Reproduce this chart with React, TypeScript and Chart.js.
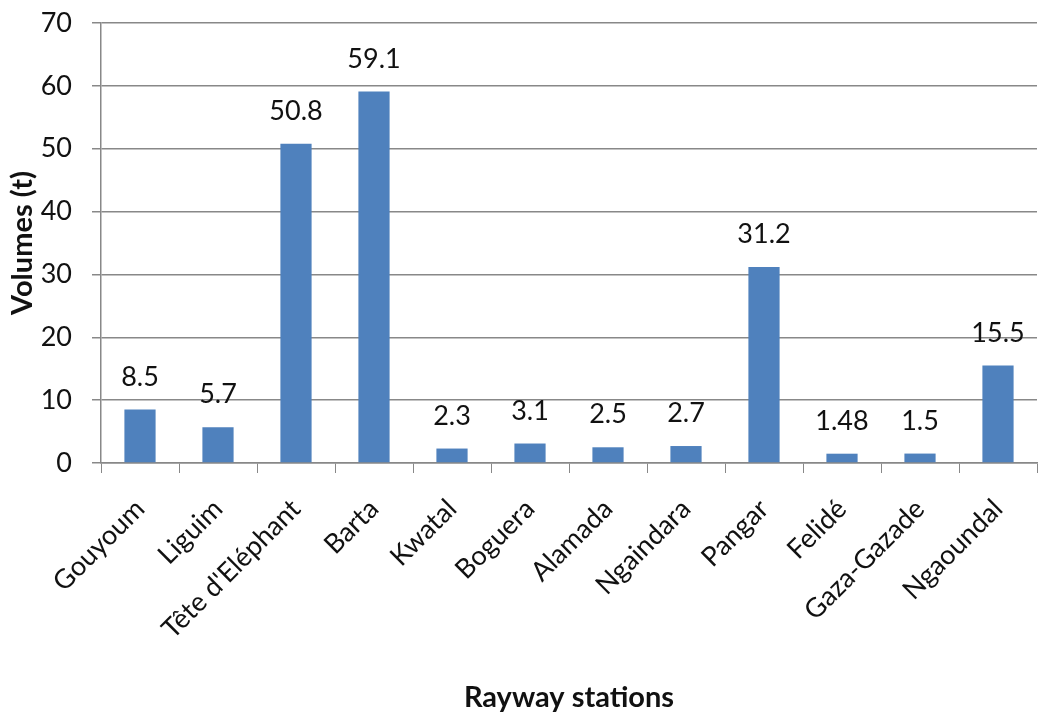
import React, { useEffect, useRef } from "react";
import { Chart, registerables } from "chart.js";

Chart.register(...registerables);

const stations = [
  "Gouyoum",
  "Liguim",
  "Tête d'Eléphant",
  "Barta",
  "Kwatal",
  "Boguera",
  "Alamada",
  "Ngaindara",
  "Pangar",
  "Felidé",
  "Gaza-Gazade",
  "Ngaoundal",
];
const volumes = [8.5, 5.7, 50.8, 59.1, 2.3, 3.1, 2.5, 2.7, 31.2, 1.48, 1.5, 15.5];
const volumeLabels = ["8.5", "5.7", "50.8", "59.1", "2.3", "3.1", "2.5", "2.7", "31.2", "1.48", "1.5", "15.5"];
const yTicks = [0, 10, 20, 30, 40, 50, 60, 70];

const FONT = "Lato, 'Open Sans', sans-serif";

const dataLabelPlugin = {
  id: "dataLabels",
  afterDatasetsDraw(chart: any) {
    const ctx = chart.ctx;
    const meta = chart.getDatasetMeta(0);
    ctx.save();
    ctx.font = `27px ${FONT}`;
    ctx.fillStyle = "#111111";
    ctx.textAlign = "center";
    ctx.textBaseline = "alphabetic";
    meta.data.forEach((bar: any, i: number) => {
      ctx.fillText(volumeLabels[i], bar.x, bar.y - 24);
    });
    ctx.restore();
  },
};

export default function App() {
  const ref = useRef<HTMLCanvasElement | null>(null);
  useEffect(() => {
    if (!ref.current) return;
    const chart = new Chart(ref.current, {
      type: "bar",
      data: {
        labels: stations,
        datasets: [
          {
            data: volumes,
            backgroundColor: "#4F81BD",
            borderColor: "#4F81BD",
            borderWidth: 0,
            categoryPercentage: 1,
            barPercentage: 0.4,
          },
        ],
      },
      options: {
        animation: false,
        responsive: true,
        maintainAspectRatio: false,
        layout: { padding: { top: 23, right: 16, left: 0, bottom: 0 } },
        plugins: {
          legend: { display: false },
          tooltip: { enabled: false },
        },
        scales: {
          x: {
            offset: true,
            grid: {
              display: true,
              drawOnChartArea: false,
              drawTicks: true,
              tickLength: 10,
              color: "#888888",
              offset: true,
            },
            border: { display: true, color: "#888888", width: 1.5 },
            ticks: {
              color: "#111111",
              font: { family: FONT, size: 27 },
              minRotation: 45,
              maxRotation: 45,
              padding: 20,
              autoSkip: false,
            },
            title: {
              display: true,
              text: "Rayway stations",
              color: "#111111",
              font: { family: FONT, size: 29, weight: "bold" },
              padding: { top: 0, bottom: -3 },
            },
            afterFit(scale: any) {
              scale.height = 249;
            },
          },
          y: {
            min: 0,
            max: 70,
            afterBuildTicks(scale: any) {
              scale.ticks = yTicks.map((v) => ({ value: v }));
            },
            grid: {
              color: "#888888",
              lineWidth: 1.5,
              tickLength: 9,
              drawTicks: true,
            },
            border: { display: true, color: "#888888", width: 1.5 },
            ticks: {
              color: "#111111",
              font: { family: FONT, size: 27 },
              padding: 20,
            },
            title: {
              display: true,
              text: "Volumes (t)",
              color: "#111111",
              font: { family: FONT, size: 29, weight: "bold" },
              padding: { top: 5, bottom: 0 },
            },
            afterFit(scale: any) {
              scale.width = 101;
              scale.paddingTop = 0;
              scale.paddingBottom = 0;
            },
          },
        },
      },
      plugins: [dataLabelPlugin],
    });
    return () => chart.destroy();
  }, []);
  return (
    <div style={{ position: "fixed", left: 0, top: 0, width: 1053, height: 712, background: "#fff" }}>
      <canvas ref={ref} />
    </div>
  );
}
